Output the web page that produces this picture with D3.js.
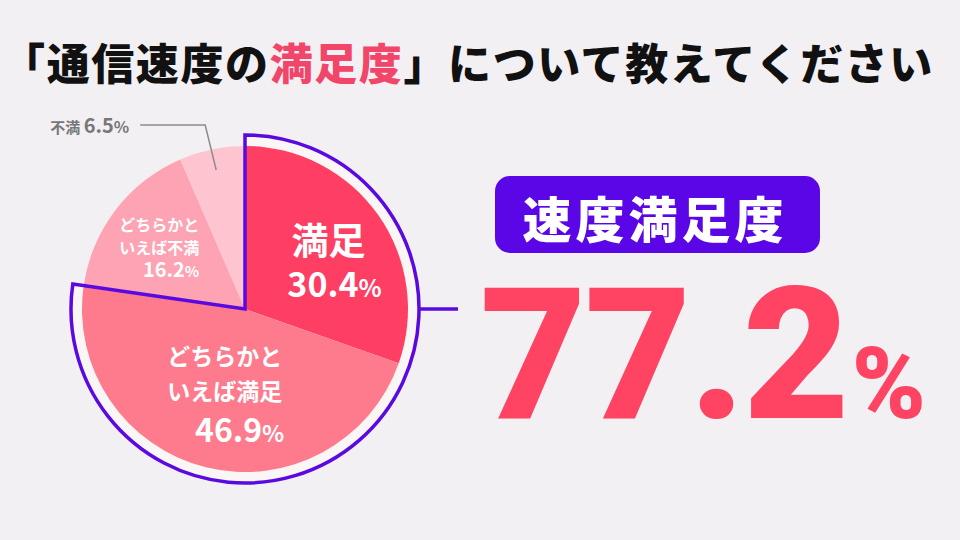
<!DOCTYPE html>
<html>
<head>
<meta charset="utf-8">
<script src="https://cdn.jsdelivr.net/npm/d3@7"></script>
<style>
  body { margin: 0; background: #f3f0f4; }
  svg { display: block; }
  text { font-family: "Noto Sans CJK JP", "Noto Sans", sans-serif; }
</style>
</head>
<body>
<div id="chart"></div>
<script>
// survey answers, clockwise from 12 o'clock
var categories = ["満足", "どちらかといえば満足", "どちらかといえば不満", "不満"];
var shares = [30.4, 46.9, 16.2, 6.5];
var sliceColors = ["#fe3e63", "#fd7b8d", "#fea3b3", "#fec5d0"];
var labelLines = [["満足"], ["どちらかと", "いえば満足"], ["どちらかと", "いえば不満"], ["不満"]];
var satisfiedCount = 2; // first two slices are outlined
var headlineRate = 77.2; // as printed in the source
var titleParts = [["「通信速度の", "#111"], ["満足度", "#f1466a"], ["」について教えてください", "#111"]];
var badgeText = "速度満足度";

var width = 960, height = 540;
var cx = 245, cy = 309, radius = 163, ringRadius = 174;

var svg = d3.select("#chart").append("svg")
	.attr("width", width)
	.attr("height", height);

svg.append("rect").attr("width", width).attr("height", height).attr("fill", "#f3f0f4");

// title
var title = svg.append("text")
	.attr("x", 468)
	.attr("y", 80)
	.attr("text-anchor", "middle")
	.attr("font-size", 43)
	.attr("font-weight", 900)
	.attr("letter-spacing", 1.6);
title.selectAll("tspan").data(titleParts).enter().append("tspan")
	.attr("fill", function (d) { return d[1]; })
	.text(function (d) { return d[0]; });

var pie = d3.pie().sort(null).value(function (d) { return d; });
var arcs = pie(shares);
var arc = d3.arc().innerRadius(0).outerRadius(radius);

var g = svg.append("g").attr("transform", "translate(" + cx + "," + cy + ")");

var satEnd = arcs[satisfiedCount - 1].endAngle;

// light band behind satisfied part
g.append("path")
	.attr("d", d3.arc().innerRadius(radius - 2).outerRadius(ringRadius)({ startAngle: 0, endAngle: satEnd }))
	.attr("fill", "#faf6f5");

g.selectAll(".slice").data(arcs).enter().append("path")
	.attr("class", "slice")
	.attr("d", arc)
	.attr("fill", function (d, i) { return sliceColors[i]; });

// purple outline around satisfied part
var ringPath = d3.path();
ringPath.moveTo(0, 0);
ringPath.lineTo(0, -ringRadius);
ringPath.arc(0, 0, ringRadius, -Math.PI / 2, satEnd - Math.PI / 2, false);
ringPath.closePath();
g.append("path")
	.attr("d", ringPath.toString())
	.attr("fill", "none")
	.attr("stroke", "#5a0ae0")
	.attr("stroke-width", 3.5)
	.attr("stroke-linejoin", "miter");

// connector from ring to headline
svg.append("line")
	.attr("x1", cx + ringRadius).attr("y1", cy)
	.attr("x2", 458).attr("y2", cy)
	.attr("stroke", "#5a0ae0")
	.attr("stroke-width", 3.5);

function centroidAt(d, r) {
	return d3.arc().innerRadius(r).outerRadius(r).centroid(d);
}

// label for slice 0 (満足)
var c0 = centroidAt(arcs[0], 95);
var l0 = g.append("text").attr("text-anchor", "middle").attr("fill", "#fff").attr("font-weight", 700);
l0.append("tspan").attr("x", c0[0] + 6).attr("y", c0[1] + 1).attr("font-size", 37).text(labelLines[0][0]);
var p0 = l0.append("tspan").attr("x", c0[0] + 12).attr("y", c0[1] + 43).attr("font-size", 34);
p0.append("tspan").text(shares[0].toFixed(1));
p0.append("tspan").attr("font-size", 24).text("%");

// label for slice 1
var c1 = centroidAt(arcs[1], 85);
var l1 = g.append("text").attr("text-anchor", "middle").attr("fill", "#fff").attr("font-weight", 700);
l1.append("tspan").attr("x", c1[0]).attr("y", c1[1] - 27).attr("font-size", 23).text(labelLines[1][0]);
l1.append("tspan").attr("x", c1[0]).attr("y", c1[1] + 8).attr("font-size", 23).text(labelLines[1][1]);
var p1 = l1.append("tspan").attr("x", c1[0] + 15).attr("y", c1[1] + 50).attr("font-size", 32);
p1.append("tspan").text(shares[1].toFixed(1));
p1.append("tspan").attr("font-size", 23).text("%");

// label for slice 2 (right aligned)
var c2 = centroidAt(arcs[2], 103);
var l2 = g.append("text").attr("text-anchor", "end").attr("fill", "#fff").attr("font-weight", 700);
l2.append("tspan").attr("x", c2[0] + 36).attr("y", c2[1] - 15).attr("font-size", 16).text(labelLines[2][0]);
l2.append("tspan").attr("x", c2[0] + 36).attr("y", c2[1] + 8).attr("font-size", 16).text(labelLines[2][1]);
var p2 = l2.append("tspan").attr("x", c2[0] + 36).attr("y", c2[1] + 31).attr("font-size", 20);
p2.append("tspan").text(shares[2].toFixed(1));
p2.append("tspan").attr("font-size", 15).text("%");

// outside label for slice 3 with leader line
var c3 = centroidAt(arcs[3], 142);
var leader = d3.path();
leader.moveTo(c3[0], c3[1]);
leader.lineTo(c3[0] - 11, -184);
leader.lineTo(c3[0] - 76, -184);
g.append("path")
	.attr("d", leader.toString())
	.attr("fill", "none")
	.attr("stroke", "#8c8c8c")
	.attr("stroke-width", 1.5);
var l3 = g.append("text").attr("text-anchor", "end").attr("fill", "#777").attr("font-weight", 700)
	.attr("x", c3[0] - 87).attr("y", -176);
l3.append("tspan").attr("font-size", 15).text(labelLines[3][0] + " ");
l3.append("tspan").attr("font-size", 20).text(shares[3].toFixed(1));
l3.append("tspan").attr("font-size", 16).text("%");

// badge
svg.append("rect")
	.attr("x", 495).attr("y", 176)
	.attr("width", 325).attr("height", 77)
	.attr("rx", 15)
	.attr("fill", "#5a06e6");
svg.append("text")
	.attr("x", 655).attr("y", 238)
	.attr("text-anchor", "middle")
	.attr("fill", "#fff")
	.attr("font-size", 49)
	.attr("font-weight", 900)
	.attr("letter-spacing", 4)
	.text(badgeText);

// headline number
var big = svg.append("text")
	.attr("x", 480).attr("y", 418)
	.attr("fill", "#fe4363")
	.style("font-family", "Roboto, 'Liberation Sans', sans-serif")
	.attr("font-weight", 900);
big.append("tspan").attr("font-size", 184).attr("letter-spacing", -2).text(headlineRate.toFixed(1));
big.append("tspan").attr("font-size", 100).attr("dx", 4).text("%");
</script>
</body>
</html>
